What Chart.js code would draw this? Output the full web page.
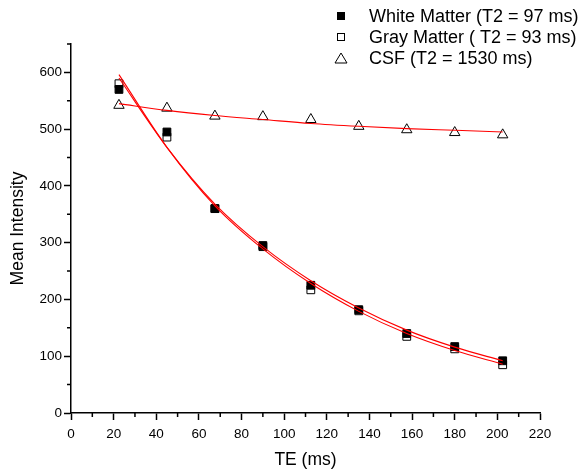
<!DOCTYPE html>
<html>
<head>
<meta charset="utf-8">
<script src="https://cdn.jsdelivr.net/npm/chart.js@4.4.1/dist/chart.umd.min.js"></script>
<style>
  body { margin: 0; background: #fff; }
  #wrap { width: 580px; height: 472px; }
</style>
</head>
<body>
<div id="wrap"><canvas id="t2Chart"></canvas></div>
<script>
// echo times (ms)
const te = [22.5, 45, 67.5, 90, 112.5, 135, 157.5, 180, 202.5];

// measured mean intensity
const whiteMatter = [570, 495, 360, 295, 225, 182, 140, 117, 92];
const grayMatter = [580, 486, 360, 293, 217, 180, 135, 113, 85];
const csf = [542, 537, 523, 522, 517, 505, 499, 494, 490];

// fitted curves at the same echo times
const whiteFit = [590, 468, 368, 293, 233, 185, 146, 116, 92];
const grayFit = [596, 468, 365, 289, 228, 179, 140, 110, 86];
const csfFit = [545, 533, 524, 517, 510, 505, 501, 498, 495];

const xTicks = [0, 20, 40, 60, 80, 100, 120, 140, 160, 180, 200, 220];
const yTicks = [0, 100, 200, 300, 400, 500, 600];
const legendNames = ['White Matter (T2 = 97 ms)', 'Gray Matter ( T2 = 93 ms)', 'CSF (T2 = 1530 ms)'];

const FONT = '"Liberation Sans", Arial, sans-serif';

function pairs(ys) {
    return te.map((x, i) => ({ x: x, y: ys[i] }));
}

function fitLine(ys) {
    return {
        data: pairs(ys),
        showLine: true,
        borderColor: '#ff0000',
        borderWidth: 1.1,
        pointRadius: 0,
        cubicInterpolationMode: 'monotone',
        fill: false
    };
}

// minor ticks halfway between the labelled ones, plus a text legend
const extras = {
    id: 'extras',
    afterDraw(chart) {
        const ctx = chart.ctx;
        const xs = chart.scales.x, ys = chart.scales.y;
        ctx.save();
        ctx.strokeStyle = '#000';
        ctx.lineWidth = 1.5;
        ctx.beginPath();
        for (let v = 10; v < 220; v += 20) {
            const px = xs.getPixelForValue(v);
            ctx.moveTo(px, xs.top);
            ctx.lineTo(px, xs.top + 4);
        }
        for (let v = 50; v <= 650; v += 100) {
            const py = ys.getPixelForValue(v);
            ctx.moveTo(ys.right, py);
            ctx.lineTo(ys.right - 4, py);
        }
        ctx.stroke();

        // legend
        ctx.font = '18px ' + FONT;
        ctx.textBaseline = 'middle';
        ctx.fillStyle = '#000';
        const mx = 341, tx = 369;
        const rows = [16, 37, 58];
        ctx.lineWidth = 1;
        // filled square
        ctx.fillRect(mx - 4, rows[0] - 4, 8, 8);
        // open square
        ctx.strokeRect(mx - 3.5, rows[1] - 3.5, 7, 7);
        // triangle
        ctx.beginPath();
        ctx.moveTo(mx, rows[2] - 5);
        ctx.lineTo(mx - 6, rows[2] + 5);
        ctx.lineTo(mx + 6, rows[2] + 5);
        ctx.closePath();
        ctx.stroke();
        legendNames.forEach((name, i) => ctx.fillText(name, tx, rows[i] + 1));
        ctx.restore();
    }
};

let ctx = document.getElementById('t2Chart').getContext('2d');
let t2Chart = new Chart(ctx, {
    type: 'scatter',
    data: {
        datasets: [
            fitLine(whiteFit),
            fitLine(grayFit),
            fitLine(csfFit),
            {
                label: legendNames[0],
                data: pairs(whiteMatter),
                pointStyle: 'rect',
                pointRadius: 5.5,
                backgroundColor: '#000',
                borderColor: '#000',
                borderWidth: 1
            },
            {
                label: legendNames[1],
                data: pairs(grayMatter),
                pointStyle: 'rect',
                pointRadius: 5.5,
                backgroundColor: '#fff',
                borderColor: '#000',
                borderWidth: 1
            },
            {
                label: legendNames[2],
                data: pairs(csf),
                pointStyle: 'triangle',
                pointRadius: 6,
                backgroundColor: 'rgba(255,255,255,0)',
                borderColor: '#000',
                borderWidth: 1
            }
        ]
    },
    options: {
        responsive: true,
        maintainAspectRatio: false,
        animation: false,
        layout: { padding: { top: 44, right: 40, left: 0, bottom: 0 } },
        plugins: {
            legend: { display: false },
            tooltip: { enabled: false }
        },
        scales: {
            x: {
                type: 'linear',
                min: 0,
                max: 220,
                afterBuildTicks: (s) => { s.ticks = xTicks.map(v => ({ value: v })); },
                afterFit: (s) => { s.height = 59; },
                border: { color: '#000', width: 1.5 },
                grid: { display: true, drawOnChartArea: false, tickLength: 7, tickColor: '#000', tickWidth: 1.5 },
                ticks: { color: '#000', font: { family: FONT, size: 13.5 }, padding: 6, maxRotation: 0 },
                title: { display: true, text: 'TE (ms)', color: '#000', font: { family: FONT, size: 17.5 }, padding: { top: 0, bottom: 1 } }
            },
            y: {
                type: 'linear',
                min: 0,
                max: 650,
                afterBuildTicks: (s) => { s.ticks = yTicks.map(v => ({ value: v })); },
                afterFit: (s) => { s.width = 71; },
                border: { color: '#000', width: 1.5 },
                grid: { display: true, drawOnChartArea: false, tickLength: 7, tickColor: '#000', tickWidth: 1.5 },
                ticks: { color: '#000', font: { family: FONT, size: 13.5 }, padding: 2 },
                title: { display: true, text: 'Mean Intensity', color: '#000', font: { family: FONT, size: 17.5 }, padding: { top: 8, bottom: 0 } }
            }
        }
    },
    plugins: [extras]
});
</script>
</body>
</html>
